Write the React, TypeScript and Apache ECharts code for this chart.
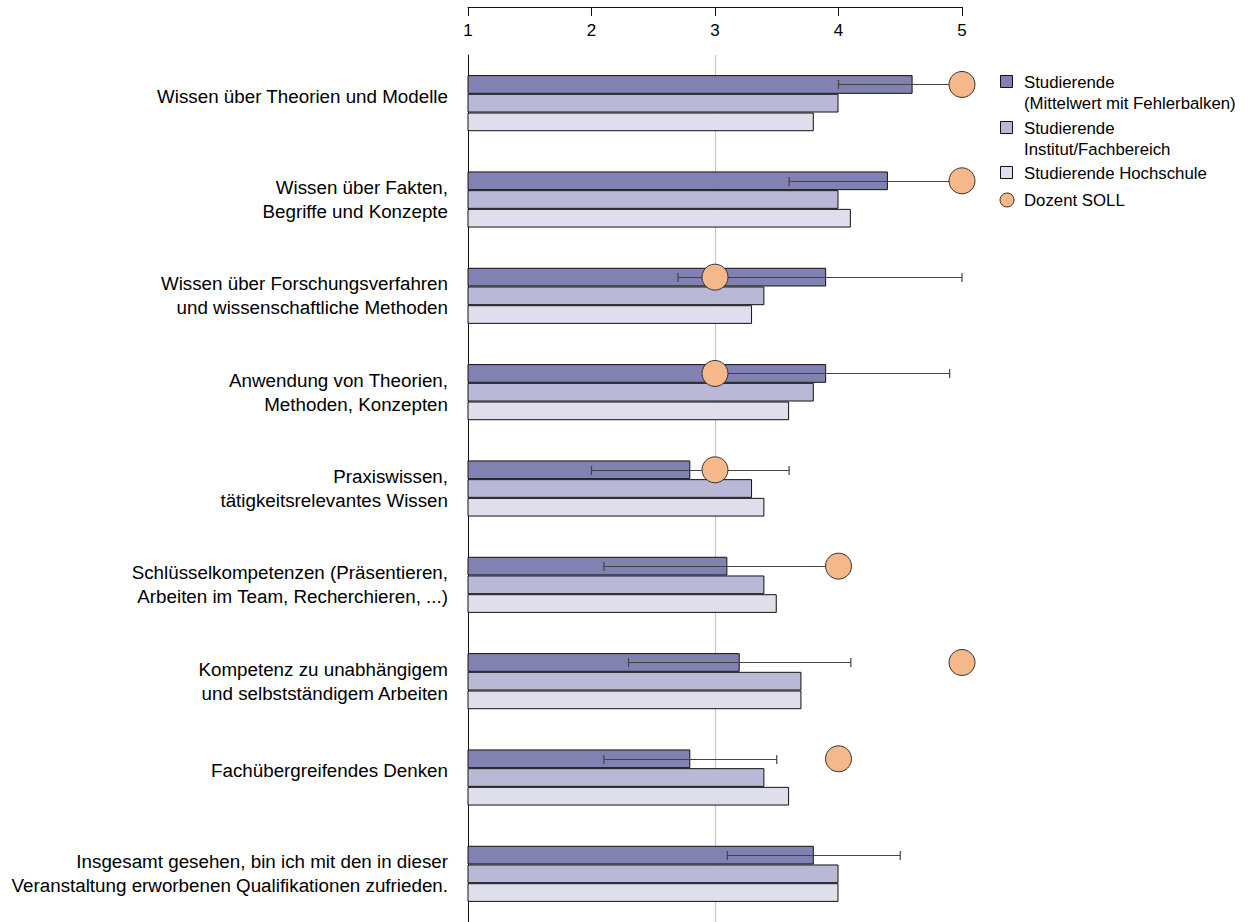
import React, { useEffect, useRef } from "react";
import * as echarts from "echarts";

const categories = [
  "Wissen über Theorien und Modelle",
  "Wissen über Fakten,\nBegriffe und Konzepte",
  "Wissen über Forschungsverfahren\nund wissenschaftliche Methoden",
  "Anwendung von Theorien,\nMethoden, Konzepten",
  "Praxiswissen,\ntätigkeitsrelevantes Wissen",
  "Schlüsselkompetenzen (Präsentieren,\nArbeiten im Team, Recherchieren, ...)",
  "Kompetenz zu unabhängigem\nund selbstständigem Arbeiten",
  "Fachübergreifendes Denken",
  "Insgesamt gesehen, bin ich mit den in dieser\nVeranstaltung erworbenen Qualifikationen zufrieden.",
];
const studierende = [4.6, 4.4, 3.9, 3.9, 2.8, 3.1, 3.2, 2.8, 3.8];
const errLow = [4.0, 3.6, 2.7, 2.95, 2.0, 2.1, 2.3, 2.1, 3.1];
const errHigh = [5.0, 5.0, 5.0, 4.9, 3.6, 4.0, 4.1, 3.5, 4.5];
const institut = [4.0, 4.0, 3.4, 3.8, 3.3, 3.4, 3.7, 3.4, 4.0];
const hochschule = [3.8, 4.1, 3.3, 3.6, 3.4, 3.5, 3.7, 3.6, 4.0];
const dozentSoll: (number | null)[] = [5, 5, 3, 3, 3, 4, 5, 4, null];
const xTicks = [1, 2, 3, 4, 5];

const legendNames = [
  "Studierende\n(Mittelwert mit Fehlerbalken)",
  "Studierende\nInstitut/Fachbereich",
  "Studierende Hochschule",
  "Dozent SOLL",
];

const C_DARK = "#8282b2";
const C_MID = "#b9b9d7";
const C_LIGHT = "#dedeec";
const C_DOT = "#f5b88a";
const FONT = "Liberation Sans, Arial, Helvetica, sans-serif";
const BAR_W = 18.7;

export default function App() {
  const ref = useRef<HTMLDivElement>(null);
  useEffect(() => {
    if (!ref.current) return;
    const chart = echarts.init(ref.current, undefined, { renderer: "svg" });
    const barStyle = (c: string) => ({ color: c, borderColor: "#111", borderWidth: 1 });
    const legendY = [82, 128, 173, 200];
    const legendColors = [C_DARK, C_MID, C_LIGHT];
    const graphics: any[] = [];
    legendNames.forEach((n, i) => {
      const y = legendY[i];
      if (i < 3) {
        graphics.push({
          type: "rect",
          shape: { x: 1000.5, y: y - 6.5, width: 12, height: 12 },
          style: { fill: legendColors[i], stroke: "#111", lineWidth: 1 },
        });
      } else {
        graphics.push({
          type: "circle",
          shape: { cx: 1007, cy: y, r: 7 },
          style: { fill: C_DOT, stroke: "#333", lineWidth: 1 },
        });
      }
      graphics.push({
        type: "text",
        x: 1024,
        y: y - 10.5,
        style: {
          text: n,
          fontSize: 16.8,
          fontFamily: FONT,
          fill: "#000",
          lineHeight: 21,
          verticalAlign: "top",
        },
      });
    });

    chart.setOption({
      animation: false,
      textStyle: { fontFamily: FONT },
      grid: { left: 468, width: 494, top: 55, height: 869, containLabel: false },
      xAxis: {
        type: "value",
        position: "top",
        offset: 48,
        min: 1,
        max: 5,
        interval: 1,
        axisLine: { show: true, lineStyle: { color: "#111", width: 1 } },
        axisTick: { show: true, inside: true, length: 9, lineStyle: { color: "#111" } },
        axisLabel: {
          inside: true,
          margin: 15,
          fontSize: 17,
          color: "#000",
          fontFamily: FONT,
          formatter: (v: number) => (xTicks.includes(v) ? String(v) : ""),
        },
        splitLine: { show: false },
      },
      yAxis: {
        type: "category",
        inverse: true,
        data: categories,
        axisLine: { show: true, lineStyle: { color: "#111", width: 1 } },
        axisTick: { show: false },
        axisLabel: {
          margin: 20,
          fontSize: 18.8,
          lineHeight: 24,
          color: "#000",
          fontFamily: FONT,
          align: "right",
          formatter: (v: string) => (v.includes("\n") ? v : v + "\n{sp| }"),
          rich: { sp: { fontSize: 2, lineHeight: 14 } },
        },
      },
      graphic: graphics,
      series: [
        {
          name: legendNames[0],
          type: "bar",
          data: studierende,
          barWidth: BAR_W,
          barGap: "0%",
          itemStyle: barStyle(C_DARK),
          z: 2,
          markLine: {
            silent: true,
            symbol: "none",
            label: { show: false },
            lineStyle: { color: "#c8c8c8", type: "solid", width: 1.2 },
            data: [{ xAxis: 3 }],
            z: 1,
          },
        },
        {
          name: legendNames[1],
          type: "bar",
          data: institut,
          barWidth: BAR_W,
          barGap: "0%",
          itemStyle: barStyle(C_MID),
          z: 2,
        },
        {
          name: legendNames[2],
          type: "bar",
          data: hochschule,
          barWidth: BAR_W,
          barGap: "0%",
          itemStyle: barStyle(C_LIGHT),
          z: 2,
        },
        {
          type: "custom",
          z: 5,
          data: categories.map((_, i) => [errLow[i], errHigh[i], i]),
          encode: { x: [0, 1], y: 2 },
          renderItem: (params: any, api: any) => {
            const lo = api.coord([api.value(0), api.value(2)]);
            const hi = api.coord([api.value(1), api.value(2)]);
            const y = Math.round(lo[1] - BAR_W) + 0.5;
            const style = { stroke: "#444", lineWidth: 1.2 };
            return {
              type: "group",
              children: [
                { type: "line", shape: { x1: lo[0], y1: y, x2: hi[0], y2: y }, style },
                { type: "line", shape: { x1: lo[0], y1: y - 4.5, x2: lo[0], y2: y + 4.5 }, style },
                { type: "line", shape: { x1: hi[0], y1: y - 4.5, x2: hi[0], y2: y + 4.5 }, style },
              ],
            };
          },
        },
        {
          name: legendNames[3],
          type: "scatter",
          z: 10,
          data: dozentSoll.map((v, i) => (v == null ? [null, i] : [v, i])).filter((d) => d[0] != null),
          symbol: "circle",
          symbolSize: 26,
          symbolOffset: [0, -BAR_W],
          itemStyle: { color: C_DOT, borderColor: "#333", borderWidth: 1, opacity: 1 },
        },
      ],
    });
    return () => chart.dispose();
  }, []);
  return (
    <div
      ref={ref}
      style={{ position: "fixed", left: 0, top: 0, width: 1250, height: 922, background: "#fff" }}
    />
  );
}
